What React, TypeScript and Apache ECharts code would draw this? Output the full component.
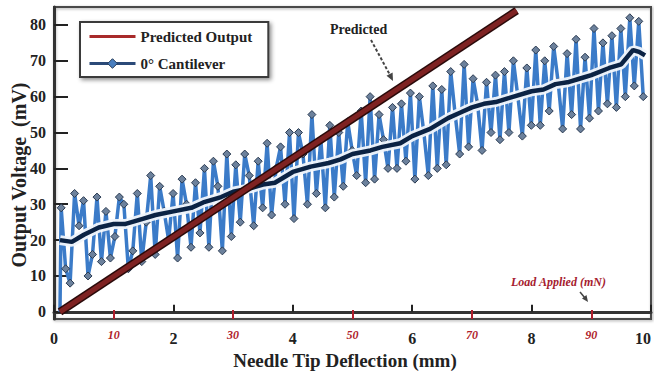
import React, { useEffect, useRef } from "react";
import * as echarts from "echarts";

// ---- data ----
const yTicks = [0, 10, 20, 30, 40, 50, 60, 70, 80];
const loadTickPositions = [1, 3, 5, 7, 9];
const loadTickLabels = ["10", "30", "50", "70", "90"];

// Predicted output (mV) vs deflection (mm)
const predictedX = [0.1, 7.75];
const predictedY = [0, 84];

// Raw 0° cantilever samples (sampled every 0.075 mm from 0.12 mm)
const sampleStart = 0.12;
const sampleStep = 0.075;
const rawVoltage = [
  29, 12, 8, 33, 24, 31, 10, 16, 32, 14,
  28, 15, 21, 32, 30, 12, 17, 33, 14, 25,
  38, 16, 35, 28, 20, 33, 15, 37, 30, 18,
  36, 22, 40, 18, 42, 35, 17, 44, 21, 41,
  25, 44, 38, 24, 42, 29, 47, 27, 40, 46,
  30, 50, 26, 50, 44, 30, 55, 33, 48, 29,
  52, 32, 50, 35, 53, 45, 38, 56, 36, 60,
  37, 55, 48, 40, 57, 40, 58, 42, 61, 37,
  60, 50, 38, 63, 40, 62, 41, 67, 55, 44,
  69, 46, 65, 58, 45, 64, 50, 66, 48, 67,
  50, 70, 60, 49, 68, 52, 73, 52, 70, 56,
  74, 64, 51, 72, 55, 76, 51, 71, 54, 79,
  56, 75, 58, 77, 57, 79, 60, 82, 63, 81, 60,
];

// Averaged cantilever trace
const meanX = [0.1, 0.3, 0.5, 0.75, 1.0, 1.2, 1.5, 1.7, 2.0, 2.3, 2.5, 2.8, 3.0, 3.3, 3.5, 3.7, 4.0, 4.3, 4.6, 4.8, 5.0, 5.3, 5.5, 5.8, 6.0, 6.3, 6.6, 6.8, 7.0, 7.2, 7.4, 7.6, 8.0, 8.2, 8.4, 8.6, 8.8, 9.0, 9.3, 9.5, 9.7, 9.8, 9.9];
const meanY = [20, 19.5, 21.5, 23.5, 24.5, 24.5, 26, 27, 28, 29, 30.5, 32, 33.5, 34.5, 35.5, 36, 39, 40.5, 41.5, 42.5, 44, 45, 46, 47, 49, 51, 54, 55.5, 57, 58, 58.5, 59.5, 61.5, 62, 63.5, 64, 65, 66, 68, 69, 73, 72.5, 71.5];

const FONT = "'Liberation Serif', 'DejaVu Serif', serif";

export default function App() {
  const ref = useRef<HTMLDivElement>(null);

  useEffect(() => {
    document.body.style.margin = "0";
    if (!ref.current) return;
    const chart = echarts.init(ref.current, null, { renderer: "svg" });

    const predicted = predictedX.map((x, i) => [x, predictedY[i]]);
    const raw: any[] = [{ value: [0.1, 0], symbol: "none" }].concat(
      rawVoltage.map((v, i) => ({ value: [+(sampleStart + i * sampleStep).toFixed(3), v] })) as any
    );
    const mean = meanX.map((x, i) => [x, meanY[i]]);

    const option: any = {
      animation: false,
      backgroundColor: "#fff",
      textStyle: { fontFamily: FONT },
      grid: {
        left: 54,
        right: 3,
        top: 7,
        bottom: 54,
        outerBoundsMode: "none",
        containLabel: false,
        show: true,
        borderColor: "#4a4a4a",
        borderWidth: 2,
        shadowColor: "rgba(0,0,0,0.35)",
        shadowBlur: 3,
        shadowOffsetX: 1,
        shadowOffsetY: 1,
      },
      legend: {
        orient: "vertical",
        left: 80,
        top: 22,
        itemWidth: 46,
        itemHeight: 12,
        itemGap: 12,
        padding: [7, 16, 6, 8],
        backgroundColor: "#fff",
        borderColor: "#3a3a3a",
        borderWidth: 2,
        shadowColor: "rgba(0,0,0,0.45)",
        shadowBlur: 4,
        shadowOffsetX: 2,
        shadowOffsetY: 2,
        textStyle: { fontFamily: FONT, fontWeight: "bold", fontSize: 15, color: "#222" },
        data: [
          {
            name: "Predicted Output",
            lineStyle: { color: "#a82a2a", width: 3 },
            itemStyle: { opacity: 0 },
          },
          {
            name: "0° Cantilever",
            lineStyle: { color: "#2b4a78", width: 3 },
            itemStyle: { color: "#4a7fbf", borderColor: "#263a55", borderWidth: 1 },
          },
        ],
      },
      xAxis: [
        {
          type: "value",
          min: 0,
          max: 10,
          interval: 2,
          position: "bottom",
          splitLine: { show: false },
          axisLine: { lineStyle: { color: "#333", width: 3 } },
          axisTick: { inside: true, length: 7, lineStyle: { color: "#222", width: 2 } },
          axisLabel: {
            margin: 11,
            alignMaxLabel: "right",
            fontFamily: FONT,
            fontWeight: "bold",
            fontSize: 16,
            color: "#222",
          },
        },
        {
          type: "value",
          min: 0,
          max: 10,
          position: "bottom",
          splitLine: { show: false },
          axisLine: { show: false },
          axisTick: {
            inside: true,
            length: 9,
            customValues: loadTickPositions,
            lineStyle: { color: "#b01e2c", width: 2 },
          },
          axisLabel: {
            margin: 10,
            customValues: loadTickPositions,
            formatter: (v: number) => {
              const i = loadTickPositions.indexOf(v);
              return i >= 0 ? loadTickLabels[i] : "";
            },
            fontFamily: FONT,
            fontStyle: "italic",
            fontWeight: "bold",
            fontSize: 12,
            color: "#b01e2c",
          },
        },
      ],
      yAxis: {
        type: "value",
        min: -2,
        max: 85,
        splitLine: { show: false },
        axisLine: { lineStyle: { color: "#333", width: 3 } },
        axisTick: { inside: true, length: 14, customValues: yTicks, lineStyle: { color: "#222", width: 2 } },
        axisLabel: {
          customValues: yTicks,
          margin: 8,
          fontFamily: FONT,
          fontWeight: "bold",
          fontSize: 16,
          color: "#222",
        },
      },
      series: [
        {
          name: "0° Cantilever",
          type: "line",
          data: raw,
          symbol: "diamond",
          symbolSize: 8,
          showAllSymbol: true,
          lineStyle: { color: "#3b7bc8", width: 3.5 },
          itemStyle: { color: "#6c819c", borderColor: "#2a3b52", borderWidth: 1 },
          z: 2,
        },
        {
          name: "meanHalo",
          type: "line",
          data: mean.slice(),
          symbol: "none",
          lineStyle: { color: "rgba(240,246,252,0.95)", width: 10 },
          z: 3,
        },
        {
          name: "Cantilever average",
          type: "line",
          data: mean,
          symbol: "none",
          lineStyle: { color: "#0b2344", width: 4.5 },
          z: 4,
        },
        {
          name: "predictedEdge",
          type: "line",
          data: predicted.slice(),
          symbol: "none",
          lineStyle: { color: "#2a0a0a", width: 8 },
          z: 5,
        },
        {
          name: "Predicted Output",
          type: "line",
          data: predicted,
          symbol: "none",
          lineStyle: { color: "#7e2222", width: 5 },
          z: 6,
        },
      ],
      graphic: [
        {
          type: "text",
          x: 19,
          y: 175,
          rotation: Math.PI / 2,
          style: {
            text: "Output Voltage  (mV)",
            font: `bold 20px ${FONT}`,
            fill: "#222",
            align: "center",
            verticalAlign: "middle",
          },
          z: 10,
        },
        {
          type: "text",
          x: 345,
          y: 360,
          style: {
            text: "Needle Tip Deflection (mm)",
            font: `bold 19px ${FONT}`,
            fill: "#222",
            align: "center",
            verticalAlign: "middle",
          },
          z: 10,
        },
        {
          type: "text",
          left: 330,
          top: 22,
          style: { text: "Predicted", font: `bold 14px ${FONT}`, fill: "#222" },
          z: 10,
        },
        {
          type: "line",
          shape: { x1: 371, y1: 40, x2: 390, y2: 75 },
          style: { stroke: "#444", lineWidth: 2, lineDash: [3, 2] },
          z: 10,
        },
        {
          type: "polygon",
          shape: { points: [[393, 81], [392.6, 72.5], [386.5, 75.8]] },
          style: { fill: "#444" },
          z: 10,
        },
        {
          type: "text",
          left: 511,
          top: 276,
          style: { text: "Load Applied (mN)", font: `italic bold 12px ${FONT}`, fill: "#a5202e" },
          z: 10,
        },
        {
          type: "line",
          shape: { x1: 580, y1: 292, x2: 585, y2: 298 },
          style: { stroke: "#444", lineWidth: 1.5 },
          z: 10,
        },
        {
          type: "polygon",
          shape: { points: [[588, 302], [582, 298.5], [586.5, 295]] },
          style: { fill: "#444" },
          z: 10,
        },
      ],
    };

    chart.setOption(option);
    return () => chart.dispose();
  }, []);

  return <div ref={ref} style={{ width: 654, height: 373 }} />;
}
